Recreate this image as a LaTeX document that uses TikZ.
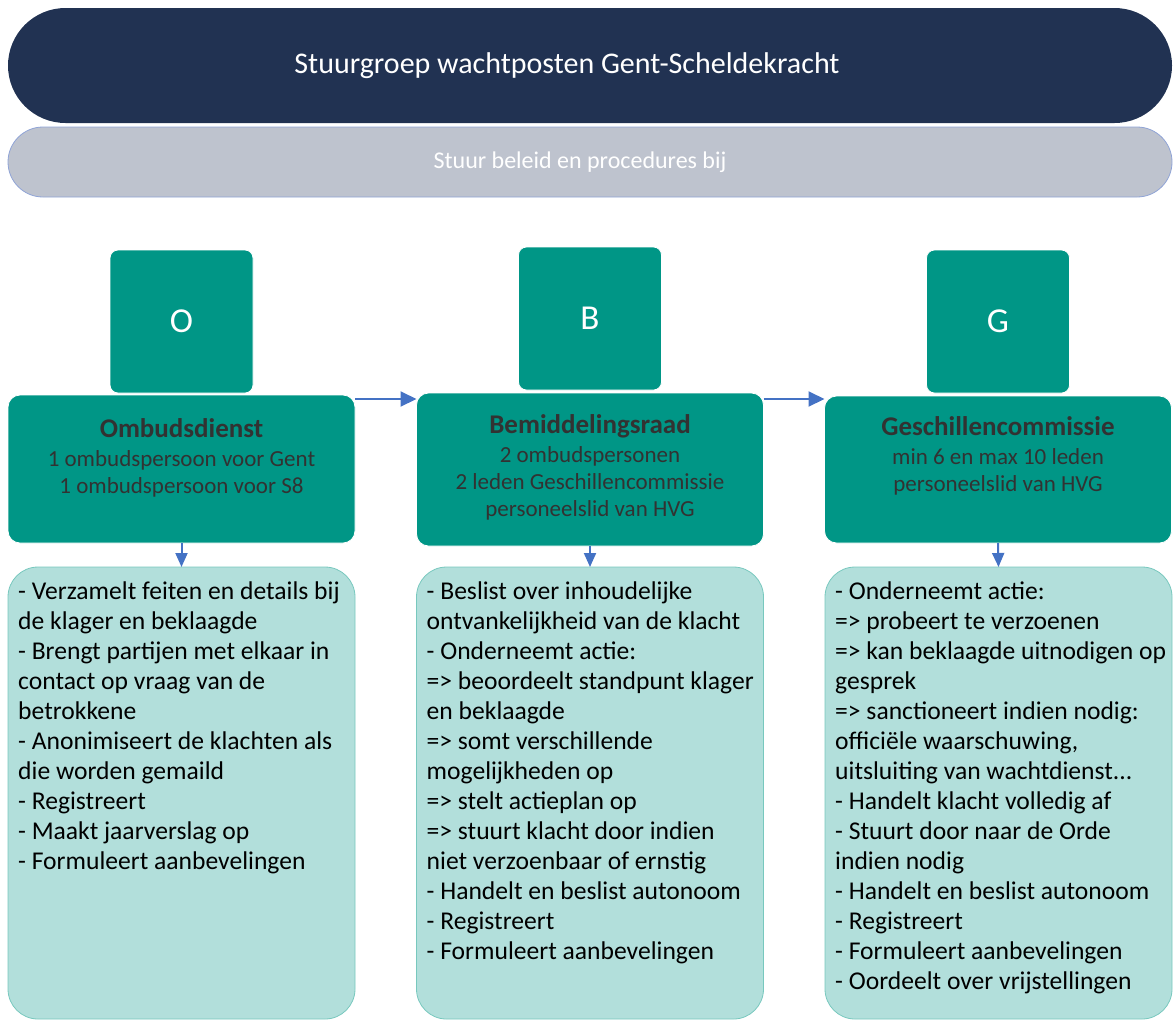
\documentclass[tikz,border=0pt]{standalone}
\usepackage{fontspec}
\setmainfont{Carlito}
\usepackage{xcolor}
\usepackage{tikz}
\usetikzlibrary{arrows.meta}
\definecolor{navy}{RGB}{33,50,82}
\definecolor{pillgray}{RGB}{190,195,206}
\definecolor{pillline}{RGB}{143,163,214}
\definecolor{teal1}{RGB}{0,150,134}
\definecolor{teal2}{RGB}{178,223,219}
\definecolor{tealline}{RGB}{120,200,190}
\definecolor{arrblue}{RGB}{68,114,196}
\definecolor{darktext}{RGB}{50,50,50}
\tikzset{>=latex}
\tikzstyle{pill} = [rectangle, inner sep = 0, outer sep = 0, minimum width = 1164pt]
\tikzstyle{pilltext} = [inner sep = 0, text = white]
\tikzstyle{letter} = [rectangle, rounded corners = 8pt, fill = teal1, draw = white, line width = 0.8pt, inner sep = 0, outer sep = 0, minimum width = 143pt, minimum height = 143pt, text = white, font = \fontsize{35}{40}\selectfont]
\tikzstyle{mainbox} = [rectangle, rounded corners = 12pt, fill = teal1, draw = white, line width = 0.8pt, inner sep = 0, outer sep = 0, minimum width = 347pt]
\tikzstyle{maintext} = [anchor = north, align = center, inner sep = 0, text = darktext, font = \fontsize{23}{27}\selectfont]
\tikzstyle{detbox} = [rectangle, rounded corners = 30pt, fill = teal2, draw = tealline, line width = 0.8pt, inner sep = 0, outer sep = 0, minimum width = 347pt, minimum height = 452pt]
\tikzstyle{dettext} = [anchor = north west, align = left, inner sep = 0, text = black, font = \fontsize{25.6}{30}\selectfont]
\tikzstyle{arr} = [-{Triangle[length=16pt, width=15pt]}, arrblue, line width = 2pt]
\tikzstyle{arrdown} = [-{Triangle[length=14pt, width=12pt]}, arrblue, line width = 2pt]

\begin{document}
\begin{tikzpicture}[x = 1pt, y = -1pt]
\useasboundingbox (0, 0) rectangle (1175, 1021);
% top bars
\node [pill, fill = navy, minimum height = 115pt, rounded corners = 57.5pt] (SG) at (590, 65.5) {};
\node [pill, fill = pillgray, draw = pillline, line width = 0.8pt, minimum height = 70pt, rounded corners = 35pt] (SB) at (590, 162) {};
\node [pilltext, font = \fontsize{30}{36}\selectfont] (SGT) at ([xshift = -23pt]SG.center) {Stuurgroep wachtposten Gent-Scheldekracht};
\node [pilltext, font = \fontsize{24}{28}\selectfont] (SBT) at ([xshift = -10pt]SB.center) {Stuur beleid en procedures bij};
% letters
\node [letter] (LO) at (181.5, 321.5) {O};
\node [letter] (LB) at (590, 318.5) {B};
\node [letter] (LG) at (998, 321.5) {G};
% main boxes
\node [mainbox, minimum height = 148pt] (Om) at (181.5, 469) {};
\node [mainbox, minimum height = 153pt] (Be) at (590, 469.5) {};
\node [mainbox, minimum height = 147pt] (Ge) at (998, 469.5) {};
\node [maintext] (OmT) at ([yshift = -21pt]Om.north) {{\fontsize{27}{30}\selectfont\bfseries\strut Ombudsdienst}\\[2pt] 1 ombudspersoon voor Gent\\ 1 ombudspersoon voor S8};
\node [maintext] (BeT) at ([yshift = -19pt]Be.north) {{\fontsize{27}{30}\selectfont\bfseries\strut Bemiddelingsraad}\\[2pt] 2 ombudspersonen\\ 2 leden Geschillencommissie\\ personeelslid van HVG};
\node [maintext] (GeT) at ([yshift = -18pt]Ge.north) {{\fontsize{27}{30}\selectfont\bfseries\strut Geschillencommissie}\\[2pt] min 6 en max 10 leden\\ personeelslid van HVG};
% detail boxes
\node [detbox] (Od) at (181.5, 793) {};
\node [detbox] (Bd) at (590, 793) {};
\node [detbox] (Gd) at (998.5, 793) {};
\node [dettext] (OdT) at ([xshift = 10pt, yshift = -11pt]Od.north west) {\strut- Verzamelt feiten en details bij\\ de klager en beklaagde\\ - Brengt partijen met elkaar in\\ contact op vraag van de\\ betrokkene\\ - Anonimiseert de klachten als\\ die worden gemaild\\ - Registreert\\ - Maakt jaarverslag op\\ - Formuleert aanbevelingen};
\node [dettext] (BdT) at ([xshift = 10pt, yshift = -11pt]Bd.north west) {\strut- Beslist over inhoudelijke\\ ontvankelijkheid van de klacht\\ - Onderneemt actie:\\ => beoordeelt standpunt klager\\ en beklaagde\\ => somt verschillende\\ mogelijkheden op\\ => stelt actieplan op\\ => stuurt klacht door indien\\ niet verzoenbaar of ernstig\\ - Handelt en beslist autonoom\\ - Registreert\\ - Formuleert aanbevelingen};
\node [dettext] (GdT) at ([xshift = 10pt, yshift = -11pt]Gd.north west) {\strut- Onderneemt actie:\\ => probeert te verzoenen\\ => kan beklaagde uitnodigen op\\ gesprek\\ => sanctioneert indien nodig:\\ officiële waarschuwing,\\ uitsluiting van wachtdienst...\\ - Handelt klacht volledig af\\ - Stuurt door naar de Orde\\ indien nodig\\ - Handelt en beslist autonoom\\ - Registreert\\ - Formuleert aanbevelingen\\ - Oordeelt over vrijstellingen};
% arrows
\draw [arr] ([yshift = -4pt]Om.north east) to ([yshift = -4pt]Om.north east -| Be.west);
\draw [arr] ([yshift = -6pt]Be.north east) to ([yshift = -6pt]Be.north east -| Ge.west);
\draw [arrdown] (Om.south) to (Od.north);
\draw [arrdown] (Be.south) to (Bd.north);
\draw [arrdown] (Ge.south) to (Gd.north);
\end{tikzpicture}
\end{document}
